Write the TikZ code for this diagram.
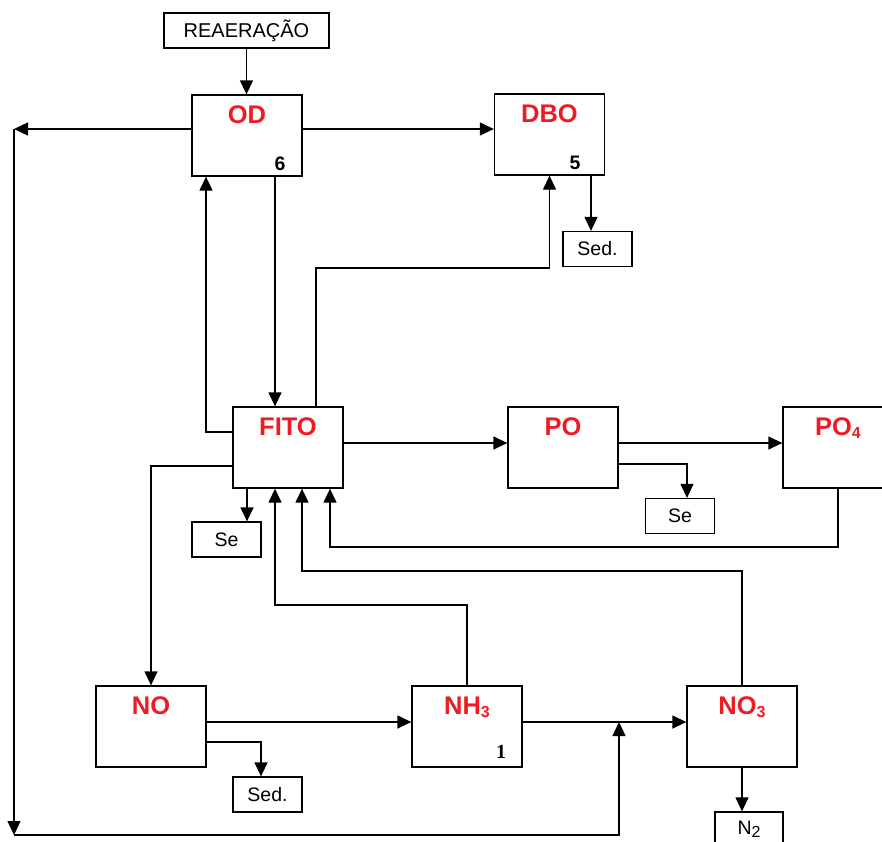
\documentclass[tikz,border=0pt]{standalone}
\usepackage{fontspec}
\setmainfont{Liberation Sans}
\newfontfamily\serifnum{Liberation Serif}
\usepackage{tikz}
\usetikzlibrary{arrows.meta}
\definecolor{titlered}{HTML}{ED1C24}
\newcommand\lowsub[1]{\raisebox{-3.5pt}{\fontsize{16}{16}\selectfont #1}}
\tikzset{
  every picture/.style={line join=miter, >={Triangle[length=14pt,width=13pt]}},
  comp/.style={draw, line width=1.3pt, inner sep=0pt, minimum width=110pt, text height=28pt, text depth=53pt, text=titlered, font=\fontsize{25.5}{25.5}\selectfont\bfseries},
  sink/.style={draw, line width=1.3pt, inner sep=0pt, minimum width=69pt, minimum height=35pt, font=\fontsize{19.5}{19.5}\selectfont},
  rate/.style={inner sep=0pt, font=\fontsize{19.5}{19.5}\selectfont\bfseries},
  flow/.style={->, line width=1.3pt},
}

\begin{document}
\begin{tikzpicture}[x=1pt,y=-1pt]
\useasboundingbox (0,0) rectangle (882,841);
\node[sink,minimum width=165pt,font=\fontsize{20}{20}\selectfont] (reaer) at (246.5,30.5) {REAERAÇÃO};
\node[comp] (od) at (247,135.5) {OD};
\node[comp] (dbo) at (549.5,134.5) {DBO};
\node[comp] (fito) at (288,447.5) {FITO};
\node[comp] (po) at (563,447.5) {PO};
\node[comp] (po4) at (838,447.5) {PO\lowsub{4}};
\node[comp] (no) at (151,726.5) {NO};
\node[comp] (nh3) at (467,726.5) {NH\lowsub{3}};
\node[comp] (no3) at (742,726.5) {NO\lowsub{3}};
\node[sink] (seddbo) at (597.5,249) {Sed.};
\node[sink] (sefito) at (226.5,539.5) {Se};
\node[sink] (sepo) at (680,516) {Se};
\node[sink] (sedno) at (267.5,794.5) {Sed.};
\node[sink,minimum width=68pt] (n2) at (749,829.5) {N\lowsub{2}};
\node[rate] (rod) at (280,164) {6};
\node[rate] (rdbo) at (575,163) {5};
\node[rate,font=\fontsize{20}{20}\selectfont\serifnum\bfseries] (rnh3) at (501,752) {1};
\coordinate (lt) at (14,129);
\coordinate (lb) at (14,835);
\coordinate (jn) at (619,722);
\draw[flow] (reaer.south) -- (reaer.south |- od.north);
\draw[flow] (od.east |- 0,129) -- (dbo.west |- 0,129);
\draw[flow] (od.west |- 0,129) -- (lt);
\draw[flow] (lt) -- (lb);
\draw[flow] (lb) -| (jn);
\draw[flow] (od.south -| 275,0) -- (fito.north -| 275,0);
\draw[flow] (fito.west |- 0,432) -| (od.south -| 206,0);
\draw[flow] (fito.north -| 316,0) |- (dbo.south |- 0,268) -- (dbo.south);
\draw[flow] (dbo.south -| 591,0) -- (seddbo.north -| 591,0);
\draw[flow] (fito.west |- 0,466) -| (no.north);
\draw[flow] (fito.south -| 247,0) -- (sefito.north -| 247,0);
\draw[flow] (fito.east |- 0,443) -- (po.west |- 0,443);
\draw[flow] (po.east |- 0,443) -- (po4.west |- 0,443);
\draw[flow] (po.east |- 0,464) -| (sepo.north -| 687,0);
\draw[flow] (po4.south) |- (330,547) -- (fito.south -| 330,0);
\draw[flow] (no3.north) |- (302,571) -- (fito.south -| 302,0);
\draw[flow] (nh3.north) |- (275,605) -- (fito.south -| 275,0);
\draw[flow] (no.east |- 0,722) -- (nh3.west |- 0,722);
\draw[flow] (no.east |- 0,742) -| (sedno.north -| 261,0);
\draw[flow] (nh3.east |- 0,722) -- (no3.west |- 0,722);
\draw[flow] (no3.south) -- (no3.south |- n2.north);
\end{tikzpicture}
\end{document}
